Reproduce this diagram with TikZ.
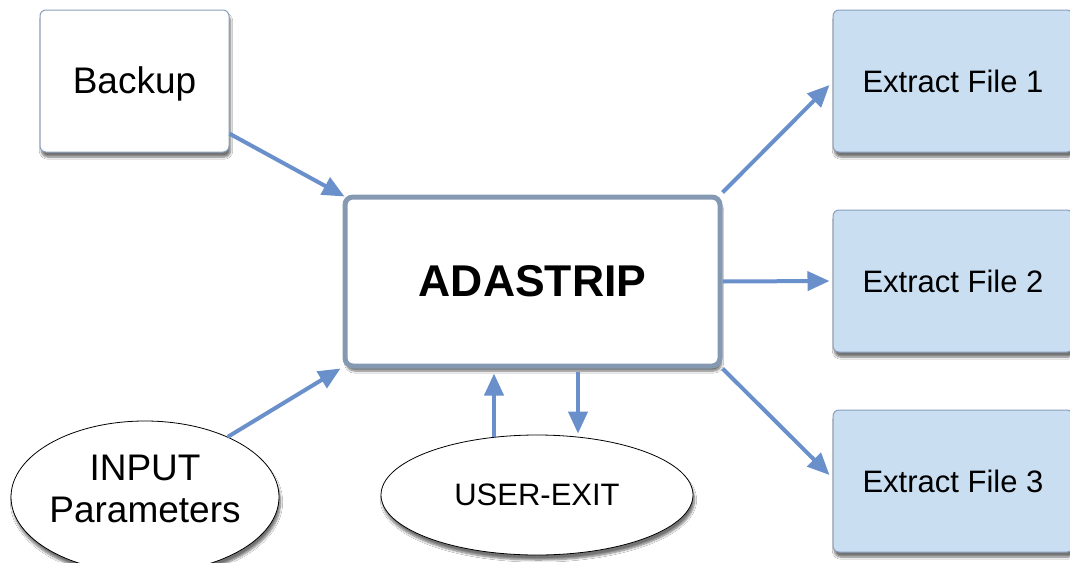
\documentclass[tikz,border=0pt]{standalone}
\usepackage{fontspec}
\setmainfont{Liberation Sans}
\usetikzlibrary{arrows.meta,shapes.geometric,shadows.blur,calc}
\definecolor{arrowblue}{HTML}{6A90CC}
\definecolor{boxedge}{HTML}{8A9FBB}
\definecolor{bigedge}{HTML}{8599B2}
\definecolor{filefill}{HTML}{C9DEF1}
\begin{document}
\begin{tikzpicture}[x=1pt,y=-1pt,
  shad/.style={blur shadow={shadow xshift=1.5pt,shadow yshift=-5pt,shadow opacity=55,shadow blur steps=7}},
  plainbox/.style={draw=boxedge,line width=1pt,fill=white,rounded corners=6pt,shad,
     minimum width=189pt,minimum height=142pt,font=\fontsize{37}{44}\selectfont},
  filebox/.style={draw=boxedge,line width=1pt,fill=filefill,rounded corners=6pt,shad,
     minimum width=240pt,minimum height=142pt,font=\fontsize{31}{37}\selectfont},
  mainbox/.style={draw=bigedge,line width=5pt,fill=white,rounded corners=8pt,shad,
     minimum width=375pt,minimum height=169pt,font=\bfseries\fontsize{44.5}{52}\selectfont},
  oval/.style={ellipse,draw=black,line width=0.8pt,fill=white,shad,inner sep=0pt},
  arr/.style={draw=arrowblue,line width=4pt,-{Triangle[length=22pt,width=19pt]}}
]
\useasboundingbox (0,0) rectangle (1070,562);
\fill[white] (0,0) rectangle (1070,562);

\node[plainbox,text depth=1pt] (bk) at (134.5,81) {Backup};
\node[mainbox] (ad) at (532.5,281.5) {ADASTRIP};
\node[filebox] (f1) at (953,81) {Extract File 1};
\node[filebox] (f2) at (953,281) {Extract File 2};
\node[filebox] (f3) at (953,481) {Extract File 3};
\node[oval,minimum width=268pt,minimum height=152pt] (in) at (145,497) {};
\node[align=center,font=\fontsize{37}{42}\selectfont,inner sep=0pt] (intext) at (145,489) {INPUT\\Parameters};
\node[oval,minimum width=312pt,minimum height=120pt,
      font=\fontsize{31}{37}\selectfont] (ue) at (537,495) {USER-EXIT};

\draw[arr] (bk.-29) -- ($(ad.north west)+(2,2)$);
\draw[arr] (in.36) -- ($(ad.south west)+(-2,0)$);
\draw[arr] ($(ad.north east)+(0,-2)$) -- ($(f1.west)+(-3,4)$);
\draw[arr] (ad.east) -- ($(f2.west)+(-3,0)$);
\draw[arr] ($(ad.south east)+(0,0)$) -- ($(f3.west)+(-3,-6)$);
\coordinate (u1) at (494,0);
\coordinate (u2) at (578,0);
\draw[arr] (u1 |- ue.north) ++(0,2) -- ($(u1 |- ad.south)+(0,5)$);
\draw[arr] ($(u2 |- ad.south)+(0,3)$) -- ($(u2 |- ue.north)+(0,-1)$);
\end{tikzpicture}
\end{document}
